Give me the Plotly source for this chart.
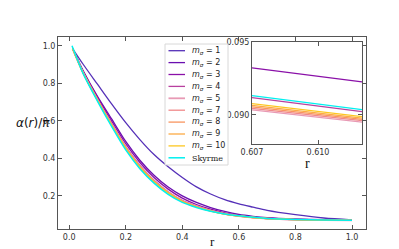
import plotly.graph_objects as go

# ---- data ----
r = [0.01, 0.05, 0.1, 0.15, 0.2, 0.25, 0.3, 0.35, 0.4, 0.45, 0.5, 0.55, 0.6, 0.65, 0.7, 0.8, 0.9, 1.0]
r_m = [0.012, 0.05, 0.1, 0.15, 0.2, 0.25, 0.3, 0.35, 0.4, 0.45, 0.5, 0.55, 0.6, 0.65, 0.7, 0.8, 0.9, 1.0]

alpha_m1 = [0.985, 0.9, 0.795, 0.69, 0.59, 0.5, 0.42, 0.355, 0.298, 0.248, 0.21, 0.18, 0.158, 0.14, 0.123, 0.1, 0.082, 0.072]
alpha_m2 = [0.985, 0.865, 0.73, 0.61, 0.49, 0.39, 0.31, 0.247, 0.2, 0.165, 0.138, 0.117, 0.101, 0.091, 0.084, 0.077, 0.073, 0.071]
alpha_m3 = [0.985, 0.862, 0.725, 0.6, 0.478, 0.378, 0.298, 0.236, 0.188, 0.154, 0.129, 0.11, 0.0955, 0.087, 0.081, 0.075, 0.072, 0.0705]
alpha_m4 = [0.985, 0.856, 0.716, 0.585, 0.462, 0.362, 0.283, 0.222, 0.176, 0.146, 0.123, 0.106, 0.0935, 0.085, 0.0795, 0.0735, 0.0705, 0.0695]
alpha_m5 = [0.985, 0.854, 0.713, 0.581, 0.458, 0.357, 0.279, 0.219, 0.173, 0.143, 0.121, 0.104, 0.0925, 0.0845, 0.079, 0.073, 0.0703, 0.0693]
alpha_m7 = [0.985, 0.854, 0.712, 0.58, 0.457, 0.356, 0.278, 0.218, 0.172, 0.143, 0.121, 0.104, 0.0926, 0.0846, 0.0791, 0.0731, 0.0703, 0.0693]
alpha_m8 = [0.985, 0.853, 0.711, 0.579, 0.456, 0.355, 0.277, 0.217, 0.172, 0.142, 0.12, 0.1035, 0.0927, 0.0847, 0.0792, 0.0732, 0.0704, 0.0694]
alpha_m9 = [0.985, 0.853, 0.711, 0.578, 0.455, 0.354, 0.276, 0.216, 0.171, 0.142, 0.12, 0.1035, 0.0928, 0.0848, 0.0793, 0.0733, 0.0704, 0.0694]
alpha_m10 = [0.985, 0.852, 0.71, 0.577, 0.454, 0.353, 0.275, 0.215, 0.17, 0.141, 0.119, 0.103, 0.0929, 0.0849, 0.0794, 0.0734, 0.0705, 0.0695]
alpha_sky = [1.0, 0.85, 0.705, 0.57, 0.445, 0.345, 0.268, 0.208, 0.165, 0.138, 0.118, 0.104, 0.0935, 0.0855, 0.08, 0.074, 0.071, 0.07]

# inset (zoomed) values at r = 0.607 and 0.612
r_inset = [0.607, 0.612]
inset_m1 = [0.1555, 0.1545]
inset_m2 = [0.0985, 0.0975]
inset_m3 = [0.09322, 0.09226]
inset_m4 = [0.09118, 0.09022]
inset_m5 = [0.09034, 0.08950]
inset_m7 = [0.09045, 0.08960]
inset_m8 = [0.09055, 0.08969]
inset_m9 = [0.09065, 0.08977]
inset_m10 = [0.09077, 0.08988]
inset_sky = [0.09132, 0.09036]

labels = ["<i>m<sub>σ</sub></i> = 1", "<i>m<sub>σ</sub></i> = 2", "<i>m<sub>σ</sub></i> = 3",
          "<i>m<sub>σ</sub></i> = 4", "<i>m<sub>σ</sub></i> = 5", "<i>m<sub>σ</sub></i> = 7",
          "<i>m<sub>σ</sub></i> = 8", "<i>m<sub>σ</sub></i> = 9", "<i>m<sub>σ</sub></i> = 10", "Skyrme"]
main_series = [alpha_m1, alpha_m2, alpha_m3, alpha_m4, alpha_m5, alpha_m7, alpha_m8, alpha_m9, alpha_m10, alpha_sky]
inset_series = [inset_m1, inset_m2, inset_m3, inset_m4, inset_m5, inset_m7, inset_m8, inset_m9, inset_m10, inset_sky]
colors = ["#5530b8", "#6a0fb0", "#8a10a8", "#b8409f", "#e89ab5", "#f0888a", "#f8955f", "#fcaa45", "#fdc721", "#00f0f0"]
widths = [1.3, 1.3, 1.3, 1.3, 1.8, 1.3, 1.3, 1.3, 1.3, 1.5]

# pixel -> paper helpers for the plot area (l=50, r=41, t=29, b=28 in a 399x249 figure)
PL, PT, PW, PH = 50, 29, 308, 192
def px(x):
    return (x - PL) / PW
def py(y):
    return (PT + PH - y) / PH

fig = go.Figure()
for i, (lab, ys) in enumerate(zip(labels, main_series)):
    xs = r if lab == "Skyrme" else r_m
    fig.add_trace(go.Scatter(x=xs, y=ys, mode="lines", name=lab, showlegend=False,
                             line=dict(color=colors[i], width=widths[i], shape="spline", smoothing=0.8),
                             xaxis="x", yaxis="y"))
for i, ys in enumerate(inset_series):
    fig.add_trace(go.Scatter(x=r_inset, y=ys, mode="lines", showlegend=False,
                             line=dict(color=colors[i], width=1.2),
                             xaxis="x2", yaxis="y2", cliponaxis=True))

tickfont = dict(family="DejaVu Sans", size=8, color="#333")
axcommon = dict(showline=True, linecolor="#555", linewidth=1, mirror="allticks",
                ticks="inside", ticklen=4, tickcolor="#555", showgrid=False, zeroline=False,
                tickfont=tickfont)

# hand-drawn legend box (matplotlib style)
shapes = [dict(type="rect", xref="paper", yref="paper", x0=px(157), x1=px(220), y0=py(157), y1=py(36),
               fillcolor="rgba(255,255,255,0.85)", line=dict(color="#d8d8d8", width=1), layer="above")]
annotations = []
for i, lab in enumerate(labels):
    yy = 42.7 + 11.9 * i
    shapes.append(dict(type="line", xref="paper", yref="paper", x0=px(160.5), x1=px(177), y0=py(yy), y1=py(yy),
                       line=dict(color=colors[i], width=widths[i]), layer="above"))
    if lab == "Skyrme":
        font = dict(family="DejaVu Serif", size=8, color="#222")
    else:
        font = dict(family="DejaVu Sans", size=8, color="#222")
    annotations.append(dict(text=lab, xref="paper", yref="paper", x=px(182), y=py(yy + 0.3),
                            xanchor="left", yanchor="middle", showarrow=False, font=font))

annotations += [
    dict(text="<i>α</i>(<i>r</i>)/<i>π</i>", xref="paper", yref="paper", x=px(6), y=py(115),
         xanchor="left", yanchor="middle", showarrow=False,
         font=dict(family="DejaVu Sans", size=12, color="#111")),
    dict(text="r", xref="paper", yref="paper", x=px(204), y=py(224), xanchor="center", yanchor="top",
         showarrow=False, font=dict(family="Liberation Serif", size=13, color="#111")),
    dict(text="r", xref="paper", yref="paper", x=px(299), y=py(146), xanchor="center", yanchor="top",
         showarrow=False, font=dict(family="Liberation Serif", size=14, color="#111")),
]

fig.update_layout(
    width=399, height=249,
    margin=dict(l=PL, r=41, t=PT, b=28),
    paper_bgcolor="white", plot_bgcolor="white",
    showlegend=False,
    xaxis=dict(range=[-0.0395, 1.0495], tickvals=[0, 0.2, 0.4, 0.6, 0.8, 1.0],
               ticktext=["0.0", "0.2", "0.4", "0.6", "0.8", "1.0"], domain=[0, 1], **axcommon),
    yaxis=dict(range=[0.0235, 1.0465], tickvals=[0.2, 0.4, 0.6, 0.8, 1.0],
               ticktext=["0.2", "0.4", "0.6", "0.8", "1.0"], domain=[0, 1], **axcommon),
    xaxis2=dict(range=[0.607, 0.612], tickvals=[0.607, 0.610], ticktext=["0.607", "0.610"],
                domain=[px(244), px(354)], anchor="y2", **axcommon),
    yaxis2=dict(range=[0.088, 0.095], tickvals=[0.090, 0.095], ticktext=["0.090", "0.095"],
                domain=[py(136), py(34)], anchor="x2", **axcommon),
    shapes=shapes,
    annotations=annotations,
)

fig.write_html("out.html")
